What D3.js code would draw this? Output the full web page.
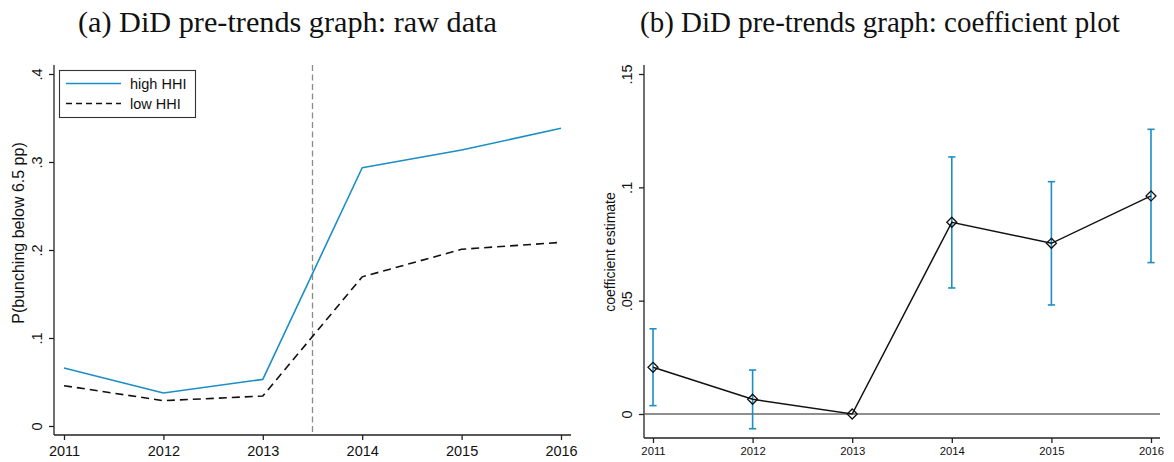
<!DOCTYPE html>
<html>
<head>
<meta charset="utf-8">
<script src="https://cdn.jsdelivr.net/npm/d3@7"></script>
<style>
  html, body { margin: 0; padding: 0; background: #fff; }
  svg { display: block; }
</style>
</head>
<body>
<svg id="chart" width="1174" height="462"></svg>
<script>
// ---------- data ----------
const years = [2011, 2012, 2013, 2014, 2015, 2016];
const highHHI = [0.066, 0.0375, 0.053, 0.2935, 0.3136, 0.3383];
const lowHHI  = [0.0458, 0.0288, 0.034, 0.1695, 0.2008, 0.2087];
const coef    = [0.0206, 0.0065, 0.0, 0.0846, 0.0753, 0.0962];
const ciLow   = [0.0037, -0.0065, 0.0, 0.0556, 0.0481, 0.0668];
const ciHigh  = [0.0376, 0.0194, 0.0, 0.1134, 0.1025, 0.1256];
const leftYTicks = [0, 0.1, 0.2, 0.3, 0.4];
const leftYLabels = ["0", ".1", ".2", ".3", ".4"];
const rightYTicks = [0, 0.05, 0.1, 0.15];
const rightYLabels = ["0", ".05", ".1", ".15"];
const legendLabels = ["high HHI", "low HHI"];
const titleA = "(a) DiD pre-trends graph: raw data";
const titleB = "(b) DiD pre-trends graph: coefficient plot";
const ytitleA = "P(bunching below 6.5 pp)";
const ytitleB = "coefficient estimate";
const treatmentX = 2013.5;

const BLUE = "#1b8fc4";
const SANS = "'Liberation Sans', Arial, Helvetica, sans-serif";
const SERIF = "'Liberation Serif', 'Times New Roman', serif";

const svg = d3.select("#chart");

// ---------- titles (fit to measured widths) ----------
function fitTitle(text, x0, x1, baseline) {
  const t = svg.append("text").attr("x", x0).attr("y", baseline)
    .attr("font-family", SERIF).attr("font-size", 24).attr("fill", "#111").text(text);
  const w = t.node().getComputedTextLength();
  const fs = 24 * (x1 - x0) / w;
  t.attr("font-size", fs);
}
fitTitle(titleA, 78, 497, 32);
fitTitle(titleB, 640, 1120, 32);

// ---------- panel A ----------
const xA = d3.scaleLinear().domain([2011, 2016]).range([64, 561]);
const yA = d3.scaleLinear().domain([0, 0.4]).range([426, 74]);
const gA = svg.append("g");
const axisA = { left: 54, right: 571, top: 65, bottom: 435 };

gA.append("line").attr("x1", axisA.left).attr("x2", axisA.left)
  .attr("y1", axisA.top).attr("y2", axisA.bottom).attr("stroke", "#222").attr("stroke-width", 1.3);
gA.append("line").attr("x1", axisA.left).attr("x2", axisA.right)
  .attr("y1", axisA.bottom).attr("y2", axisA.bottom).attr("stroke", "#222").attr("stroke-width", 1.3);

const xAxisA = gA.append("g").attr("transform", `translate(0,${axisA.bottom})`)
  .call(d3.axisBottom(xA).tickValues(years).tickFormat(d3.format("d")).tickSize(5).tickPadding(5));
xAxisA.select(".domain").remove();
xAxisA.selectAll(".tick line").attr("stroke", "#222").attr("stroke-width", 1.3);
xAxisA.selectAll(".tick text").attr("font-family", SANS).attr("font-size", 14.5).attr("fill", "#111")
  .attr("dy", null).attr("y", 21);

const yAxisA = gA.append("g").attr("transform", `translate(${axisA.left},0)`)
  .call(d3.axisLeft(yA).tickValues(leftYTicks).tickFormat((d, i) => leftYLabels[i]).tickSize(5));
yAxisA.select(".domain").remove();
yAxisA.selectAll(".tick line").attr("stroke", "#222").attr("stroke-width", 1.3);
yAxisA.selectAll(".tick text").attr("font-family", SANS).attr("font-size", 14.5).attr("fill", "#111")
  .attr("x", null).attr("dy", null).attr("text-anchor", "middle")
  .attr("transform", "translate(-12,0) rotate(-90)");

gA.append("text").attr("transform", `translate(24,233) rotate(-90)`)
  .attr("text-anchor", "middle").attr("font-family", SANS).attr("font-size", 16)
  .attr("fill", "#111").text(ytitleA);

gA.append("line").attr("x1", xA(treatmentX)).attr("x2", xA(treatmentX))
  .attr("y1", axisA.top).attr("y2", axisA.bottom)
  .attr("stroke", "#8a8a8a").attr("stroke-width", 1.3).attr("stroke-dasharray", "6,3.5");

const lineA = d3.line().x((d, i) => xA(years[i])).y(d => yA(d));
gA.append("path").datum(highHHI).attr("d", lineA).attr("fill", "none")
  .attr("stroke", BLUE).attr("stroke-width", 1.6).attr("stroke-linejoin", "round");
gA.append("path").datum(lowHHI).attr("d", lineA).attr("fill", "none")
  .attr("stroke", "#111").attr("stroke-width", 1.6).attr("stroke-dasharray", "8,5");

const leg = gA.append("g");
leg.append("rect").attr("x", 59.5).attr("y", 70.5).attr("width", 136).attr("height", 47)
  .attr("fill", "#fff").attr("stroke", "#333").attr("stroke-width", 1.1);
leg.append("line").attr("x1", 66).attr("x2", 121).attr("y1", 83.5).attr("y2", 83.5)
  .attr("stroke", BLUE).attr("stroke-width", 1.6);
leg.append("line").attr("x1", 66).attr("x2", 121).attr("y1", 103.5).attr("y2", 103.5)
  .attr("stroke", "#111").attr("stroke-width", 1.6).attr("stroke-dasharray", "6,4");
leg.selectAll("text.lg").data(legendLabels).enter().append("text")
  .attr("x", 130).attr("y", (d, i) => 89 + i * 20)
  .attr("font-family", SANS).attr("font-size", 14.5).attr("fill", "#111").text(d => d);

// ---------- panel B ----------
const xB = d3.scaleLinear().domain([2011, 2016]).range([653, 1151]);
const yB = d3.scaleLinear().domain([0, 0.15]).range([414, 74]);
const gB = svg.append("g");
const axisB = { left: 644, right: 1160, top: 65, bottom: 438 };

gB.append("line").attr("x1", axisB.left).attr("x2", axisB.left)
  .attr("y1", axisB.top).attr("y2", axisB.bottom).attr("stroke", "#222").attr("stroke-width", 1.3);
gB.append("line").attr("x1", axisB.left).attr("x2", axisB.right)
  .attr("y1", axisB.bottom).attr("y2", axisB.bottom).attr("stroke", "#222").attr("stroke-width", 1.3);

const xAxisB = gB.append("g").attr("transform", `translate(0,${axisB.bottom})`)
  .call(d3.axisBottom(xB).tickValues(years).tickFormat(d3.format("d")).tickSize(5));
xAxisB.select(".domain").remove();
xAxisB.selectAll(".tick line").attr("stroke", "#222").attr("stroke-width", 1.3);
xAxisB.selectAll(".tick text").attr("font-family", SANS).attr("font-size", 11.3).attr("fill", "#111")
  .attr("dy", null).attr("y", 17);

const yAxisB = gB.append("g").attr("transform", `translate(${axisB.left},0)`)
  .call(d3.axisLeft(yB).tickValues(rightYTicks).tickFormat((d, i) => rightYLabels[i]).tickSize(5));
yAxisB.select(".domain").remove();
yAxisB.selectAll(".tick line").attr("stroke", "#222").attr("stroke-width", 1.3);
yAxisB.selectAll(".tick text").attr("font-family", SANS).attr("font-size", 14.5).attr("fill", "#111")
  .attr("x", null).attr("dy", null).attr("text-anchor", "middle")
  .attr("transform", "translate(-12,0) rotate(-90)");

gB.append("text").attr("transform", `translate(615,252) rotate(-90)`)
  .attr("text-anchor", "middle").attr("font-family", SANS).attr("font-size", 14)
  .attr("fill", "#111").text(ytitleB);

gB.append("line").attr("x1", axisB.left).attr("x2", axisB.right)
  .attr("y1", yB(0)).attr("y2", yB(0)).attr("stroke", "#6a6a6a").attr("stroke-width", 1.5);

const eb = gB.selectAll("g.eb").data(years).enter().append("g").attr("class", "eb");
eb.filter((d, i) => ciHigh[i] !== ciLow[i]).each(function (d) {
  const i = years.indexOf(d);
  const g = d3.select(this);
  const x = xB(d);
  g.append("line").attr("x1", x).attr("x2", x).attr("y1", yB(ciLow[i])).attr("y2", yB(ciHigh[i]))
    .attr("stroke", BLUE).attr("stroke-width", 1.6);
  [ciLow[i], ciHigh[i]].forEach(v => {
    g.append("line").attr("x1", x - 3.6).attr("x2", x + 3.6).attr("y1", yB(v)).attr("y2", yB(v))
      .attr("stroke", BLUE).attr("stroke-width", 1.6);
  });
});

const lineB = d3.line().x((d, i) => xB(years[i])).y(d => yB(d));
gB.append("path").datum(coef).attr("d", lineB).attr("fill", "none")
  .attr("stroke", "#111").attr("stroke-width", 1.5);

gB.selectAll("path.dm").data(coef).enter().append("path")
  .attr("transform", (d, i) => `translate(${xB(years[i])},${yB(d)})`)
  .attr("d", "M0,-5L5,0L0,5L-5,0Z")
  .attr("fill", "none").attr("stroke", "#111").attr("stroke-width", 1.3);
</script>
</body>
</html>
